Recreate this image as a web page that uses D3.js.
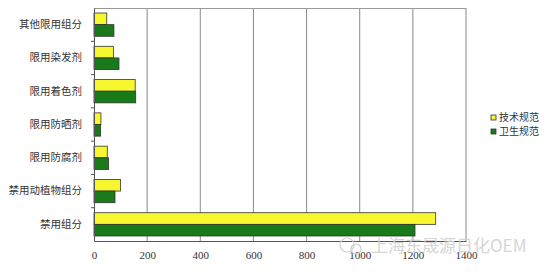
<!DOCTYPE html>
<html lang="zh">
	<head>
		<meta charset="utf-8">
		<title>规范对比</title>
		<script src="https://d3js.org/d3.v7.min.js"></script>
		<style type="text/css">
			body { margin: 0; background: #fff; }
			.axis path, .axis line { stroke: #555; }
		</style>
	</head>
	<body>
		<script type="text/javascript">

			//Data
			var categories = ["其他限用组分", "限用染发剂", "限用着色剂", "限用防晒剂", "限用防腐剂", "禁用动植物组分", "禁用组分"];
			var jishu = [48, 73, 155, 26, 50, 100, 1286];   //技术规范
			var weisheng = [75, 94, 157, 25, 55, 79, 1208]; //卫生规范
			var seriesNames = ["技术规范", "卫生规范"];
			var xTicks = [0, 200, 400, 600, 800, 1000, 1200, 1400];

			var w = 550;
			var h = 274;
			var padL = 94, padR = 466, padT = 8, padB = 241;

			var svg = d3.select("body")
						.append("svg")
						.attr("width", w)
						.attr("height", h);

			var xScale = d3.scaleLinear()
					.domain([0, 1400])
					.range([padL, padR]);

			var yScale = d3.scaleBand()
					.domain(categories)
					.range([padT, padB]);

			var inner = d3.scaleBand()
					.domain([0, 1])
					.range([0, yScale.bandwidth()])
					.paddingOuter(0.43)
					.paddingInner(0);

			//grid lines
			svg.selectAll("line.grid")
			   .data(xTicks.slice(1))
			   .enter()
			   .append("line")
			   .attr("class", "grid")
			   .attr("x1", function(d) { return xScale(d); })
			   .attr("x2", function(d) { return xScale(d); })
			   .attr("y1", padT)
			   .attr("y2", padB)
			   .attr("stroke", "#8a8a8a")
			   .attr("stroke-width", 1);

			svg.append("line")
			   .attr("x1", padL).attr("x2", padR)
			   .attr("y1", padT + 0.5).attr("y2", padT + 0.5)
			   .attr("stroke", "#999");

			//bars
			var groups = svg.selectAll("g.cat")
			   .data(categories)
			   .enter()
			   .append("g")
			   .attr("class", "cat")
			   .attr("transform", function(d) { return "translate(0," + yScale(d) + ")"; });

			groups.append("rect")
			   .attr("x", xScale(0))
			   .attr("y", inner(0))
			   .attr("width", function(d, i) { return xScale(jishu[i]) - xScale(0); })
			   .attr("height", inner.bandwidth())
			   .attr("fill", "#f7f72e")
			   .attr("stroke", "#333")
			   .attr("stroke-width", 0.8);

			groups.append("rect")
			   .attr("x", xScale(0))
			   .attr("y", inner(1))
			   .attr("width", function(d, i) { return xScale(weisheng[i]) - xScale(0); })
			   .attr("height", inner.bandwidth())
			   .attr("fill", "#187a18")
			   .attr("stroke", "#333")
			   .attr("stroke-width", 0.8);

			//X axis
			var xAxis = d3.axisBottom()
					.scale(xScale)
					.tickValues(xTicks)
					.tickFormat(d3.format("d"))
					.tickSize(0)
					.tickPadding(10);

			svg.append("g")
				.attr("class", "axis")
				.attr("transform", "translate(0," + padB + ")")
				.call(xAxis)
				.call(function(g) { g.select(".domain").attr("stroke", "#666"); })
				.selectAll("text")
				.attr("font-family", "Liberation Serif, serif")
				.attr("font-size", "11px")
				.attr("fill", "#333");

			//Y axis
			var yAxis = d3.axisLeft()
					.scale(yScale)
					.tickSize(0)
					.tickPadding(12);

			var yg = svg.append("g")
				.attr("class", "axis")
				.attr("transform", "translate(" + padL + ",0)")
				.call(yAxis);
			yg.select(".domain").attr("stroke", "#555");
			yg.selectAll("text")
				.attr("font-family", "Noto Sans CJK SC, sans-serif")
				.attr("font-size", "10.5px")
				.attr("fill", "#333");

			//small ticks between categories
			svg.selectAll("line.sep")
			   .data(categories.slice(1))
			   .enter()
			   .append("line")
			   .attr("class", "sep")
			   .attr("x1", padL - 3).attr("x2", padL)
			   .attr("y1", function(d) { return yScale(d); })
			   .attr("y2", function(d) { return yScale(d); })
			   .attr("stroke", "#555");

			//legend
			var legendColors = ["#f7f72e", "#187a18"];
			var legend = svg.selectAll("g.legend")
			   .data(seriesNames)
			   .enter()
			   .append("g")
			   .attr("class", "legend")
			   .attr("transform", function(d, i) { return "translate(491," + (115 + i * 14) + ")"; });

			legend.append("rect")
			   .attr("width", 5).attr("height", 5)
			   .attr("fill", function(d, i) { return legendColors[i]; })
			   .attr("stroke", "#333")
			   .attr("stroke-width", 0.8);

			legend.append("text")
			   .attr("x", 8)
			   .attr("y", 6)
			   .attr("font-family", "Noto Sans CJK SC, sans-serif")
			   .attr("font-size", "10px")
			   .attr("fill", "#333")
			   .text(function(d) { return d; });

			//watermark
			svg.append("text")
			   .attr("x", 371)
			   .attr("y", 252)
			   .attr("font-family", "Noto Sans CJK SC, sans-serif")
			   .attr("font-size", "17px")
			   .attr("fill", "#cfcfcf")
			   .attr("opacity", 0.85)
			   .text("上海东晟源日化OEM");

			svg.append("circle")
			   .attr("cx", 347).attr("cy", 245).attr("r", 7)
			   .attr("fill", "none")
			   .attr("stroke", "#cfcfcf")
			   .attr("stroke-width", 1.2);
			svg.append("circle")
			   .attr("cx", 356).attr("cy", 249).attr("r", 5)
			   .attr("fill", "none")
			   .attr("stroke", "#cfcfcf")
			   .attr("stroke-width", 1.2);

		</script>
	</body>
</html>
